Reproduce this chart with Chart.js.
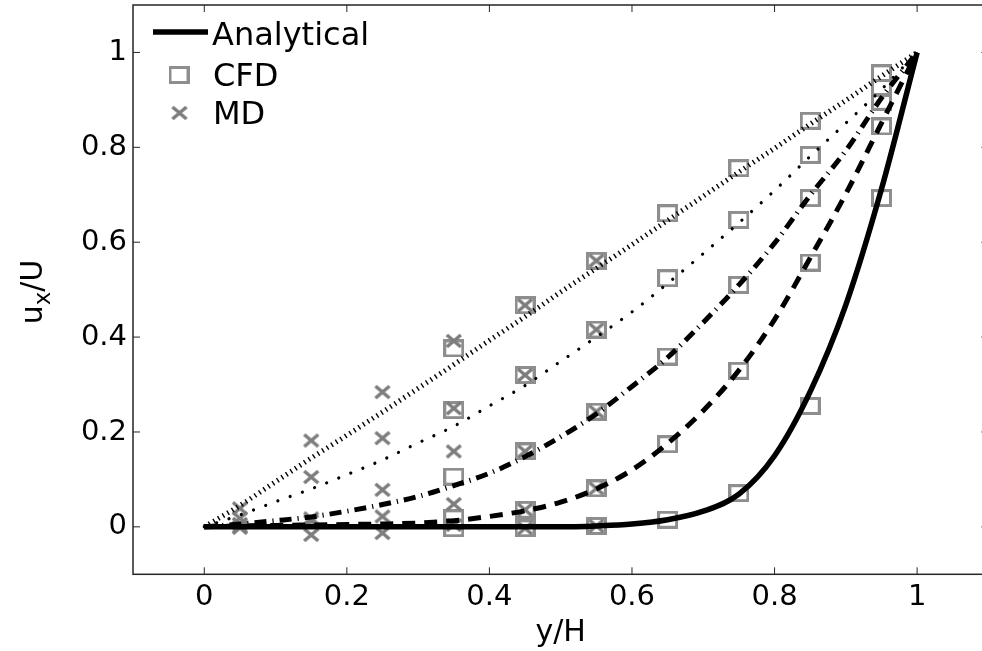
<!DOCTYPE html>
<html><head><meta charset="utf-8">
<script src="https://cdn.jsdelivr.net/npm/chart.js@4.4.1/dist/chart.umd.min.js"></script>
<style>
html,body{margin:0;padding:0;overflow:hidden;background:#fff;}
#wrap{position:absolute;left:0;top:0;width:990px;height:651px;}
</style></head><body>
<div id="wrap"><canvas id="c"></canvas></div>
<script>
// ---- data ----
const yH = [0,0.05,0.1,0.15,0.2,0.25,0.3,0.35,0.4,0.45,0.5,0.55,0.6,0.65,0.7,0.75,0.8,0.85,0.9,0.95,1];
const uA = [0,0,0,0,0,0,0,0,0,0,0,0.002,0.006,0.015,0.033,0.069,0.150,0.285,0.468,0.712,1];
const uB = [0,0.002,0.003,0.004,0.005,0.006,0.008,0.013,0.022,0.034,0.052,0.080,0.120,0.176,0.245,0.330,0.437,0.567,0.702,0.851,1];
const uC = [0,0.006,0.013,0.021,0.033,0.047,0.064,0.087,0.113,0.148,0.190,0.238,0.296,0.357,0.431,0.510,0.598,0.699,0.793,0.904,1];
const uD = [0,0.025,0.053,0.080,0.110,0.141,0.177,0.212,0.255,0.298,0.349,0.400,0.453,0.513,0.576,0.641,0.709,0.781,0.851,0.922,1];
const uE = [0,0.045,0.095,0.145,0.193,0.242,0.292,0.342,0.393,0.443,0.495,0.545,0.595,0.646,0.697,0.748,0.798,0.849,0.899,0.950,1];

const cfdX = [0.35,0.45,0.55,0.65,0.75,0.85,0.95];
const cfdA = [-0.003,-0.003,0.002,0.015,0.071,0.255,0.693];
const cfdB = [0.018,0.036,0.081,0.174,0.329,0.557,0.844];
const cfdC = [0.106,0.159,0.243,0.359,0.510,0.693,0.896];
const cfdD = [0.246,0.320,0.416,0.524,0.647,0.784,0.925];
const cfdE = [0.376,0.467,0.561,0.661,0.756,0.856,0.956];

const mdX = [0.05,0.15,0.25,0.35,0.45,0.55];
const mdA = [0.000,-0.017,-0.013,0.004,-0.003,0.002];
const mdB = [-0.002,0.012,0.022,0.048,0.036,0.081];
const mdC = [0.006,0.018,0.078,0.159,0.159,0.243];
const mdD = [0.018,0.105,0.187,0.250,0.320,0.416];
const mdE = [0.039,0.182,0.284,0.392,0.467,0.561];

const xTicks = [0,0.2,0.4,0.6,0.8,1];
const xTickLabels = ['0','0.2','0.4','0.6','0.8','1'];
const yTicks = [0,0.2,0.4,0.6,0.8,1];
const yTickLabels = ['0','0.2','0.4','0.6','0.8','1'];
const legendLabels = ['Analytical','CFD','MD'];

// ---- helpers ----
const FONT = '"DejaVu Sans", "Liberation Sans", sans-serif';
const pts = (xs, ys) => xs.map((x, i) => ({x: x, y: ys[i]}));

function squareMarker() {
  const c = document.createElement('canvas'); c.width = 21; c.height = 18;
  const g = c.getContext('2d'); g.strokeStyle = '#8e8e8e'; g.lineWidth = 3;
  g.strokeRect(1.5, 1.5, 18, 15); return c;
}
function crossMarker() {
  const c = document.createElement('canvas'); c.width = 18; c.height = 16;
  const g = c.getContext('2d'); g.strokeStyle = '#7d7d7d'; g.lineWidth = 3.5;
  g.beginPath(); g.moveTo(2, 2); g.lineTo(16, 14); g.moveTo(16, 2); g.lineTo(2, 14); g.stroke();
  return c;
}
const SQ = squareMarker(), CR = crossMarker();

function lineDs(data, width, dash, cap) {
  return {data: pts(yH, data), borderColor: '#000', borderWidth: width, borderDash: dash,
    borderCapStyle: cap || 'butt', pointRadius: 0, fill: false, cubicInterpolationMode: 'monotone', showLine: true};
}
function noPad(s) { s.paddingTop = 0; s.paddingBottom = 0; s.paddingLeft = 0; s.paddingRight = 0; }

const frame = {
  id: 'frame',
  afterDraw(chart) {
    const ctx = chart.ctx, a = chart.chartArea, xs = chart.scales.x, ys = chart.scales.y;
    ctx.save();
    // box
    ctx.strokeStyle = '#262626'; ctx.lineWidth = 1.5;
    ctx.strokeRect(a.left, a.top, a.right - a.left, a.bottom - a.top);
    // inward ticks
    ctx.lineWidth = 1; ctx.beginPath();
    const T = 7;
    xTicks.forEach(v => { const p = xs.getPixelForValue(v);
      ctx.moveTo(p, a.bottom); ctx.lineTo(p, a.bottom - T);
      ctx.moveTo(p, a.top); ctx.lineTo(p, a.top + T); });
    yTicks.forEach(v => { const p = ys.getPixelForValue(v);
      ctx.moveTo(a.left, p); ctx.lineTo(a.left + T, p);
      ctx.moveTo(a.right, p); ctx.lineTo(a.right - T, p); });
    ctx.stroke();
    // y axis title  u_x/U
    ctx.fillStyle = '#000';
    ctx.translate(42, 292); ctx.rotate(-Math.PI / 2);
    ctx.font = '30px ' + FONT; const wu = ctx.measureText('u').width, wU = ctx.measureText('/U').width;
    ctx.font = '23px ' + FONT; const wx = ctx.measureText('x').width;
    let x0 = -(wu + wx + wU) / 2;
    ctx.textBaseline = 'alphabetic';
    ctx.font = '30px ' + FONT; ctx.fillText('u', x0, 0);
    ctx.font = '23px ' + FONT; ctx.fillText('x', x0 + wu, 8);
    ctx.font = '30px ' + FONT; ctx.fillText('/U', x0 + wu + wx, 0);
    ctx.restore();
    // legend
    ctx.save();
    const lx = a.left;
    ctx.strokeStyle = '#000'; ctx.lineWidth = 5.5; ctx.beginPath();
    ctx.moveTo(lx + 20, 32); ctx.lineTo(lx + 75, 32); ctx.stroke();
    ctx.drawImage(SQ, lx + 46 - SQ.width / 2, 75 - SQ.height / 2);
    ctx.drawImage(CR, lx + 46.5 - CR.width / 2, 113 - CR.height / 2);
    ctx.fillStyle = '#000'; ctx.font = '32px ' + FONT; ctx.textBaseline = 'alphabetic';
    ctx.fillText(legendLabels[0], lx + 79, 45);
    ctx.fillText(legendLabels[1], lx + 80, 86);
    ctx.fillText(legendLabels[2], lx + 80, 123.5);
    ctx.restore();
  }
};

new Chart(document.getElementById('c'), {
  type: 'scatter',
  data: {
    datasets: [
      Object.assign(lineDs(uA, 5.5, []), {label: legendLabels[0]}),
      lineDs(uB, 5, [13, 9]),
      lineDs(uC, 5, [12, 6, 1.2, 6]),
      lineDs(uD, 3.2, [0.01, 13], 'round'),
      lineDs(uE, 5, [1.4, 4]),
      {label: legendLabels[2], data: [].concat(pts(mdX, mdA), pts(mdX, mdB), pts(mdX, mdC), pts(mdX, mdD), pts(mdX, mdE)),
        pointStyle: CR, pointRadius: 9, showLine: false},
      {label: legendLabels[1], data: [].concat(pts(cfdX, cfdA), pts(cfdX, cfdB), pts(cfdX, cfdC), pts(cfdX, cfdD), pts(cfdX, cfdE)),
        pointStyle: SQ, pointRadius: 10, showLine: false}
    ]
  },
  options: {
    responsive: true, maintainAspectRatio: false, animation: false,
    layout: {autoPadding: false, padding: {left: 0, right: 1.6, top: 5, bottom: 0}},
    plugins: {legend: {display: false}, tooltip: {enabled: false}},
    scales: {
      x: {type: 'linear', min: -0.1, max: 1.1,
        afterBuildTicks: s => { s.ticks = xTicks.map(v => ({value: v})); },
        afterFit: s => { s.height = 76.7; noPad(s); },
        grid: {display: false, drawTicks: false}, border: {display: false},
        ticks: {padding: 6, color: '#000', font: {family: FONT, size: 29},
          callback: (v, i) => xTickLabels[i]},
        title: {display: true, text: 'y/H', color: '#000', font: {family: FONT, size: 30}, padding: {top: 0, bottom: 0}}
      },
      y: {type: 'linear', min: -0.1, max: 1.1,
        afterBuildTicks: s => { s.ticks = yTicks.map(v => ({value: v})); },
        afterFit: s => { s.width = 133; noPad(s); },
        grid: {display: false, drawTicks: false}, border: {display: false},
        ticks: {padding: 6, color: '#000', font: {family: FONT, size: 29},
          callback: (v, i) => yTickLabels[i]}
      }
    }
  },
  plugins: [frame]
});
</script>
</body></html>
